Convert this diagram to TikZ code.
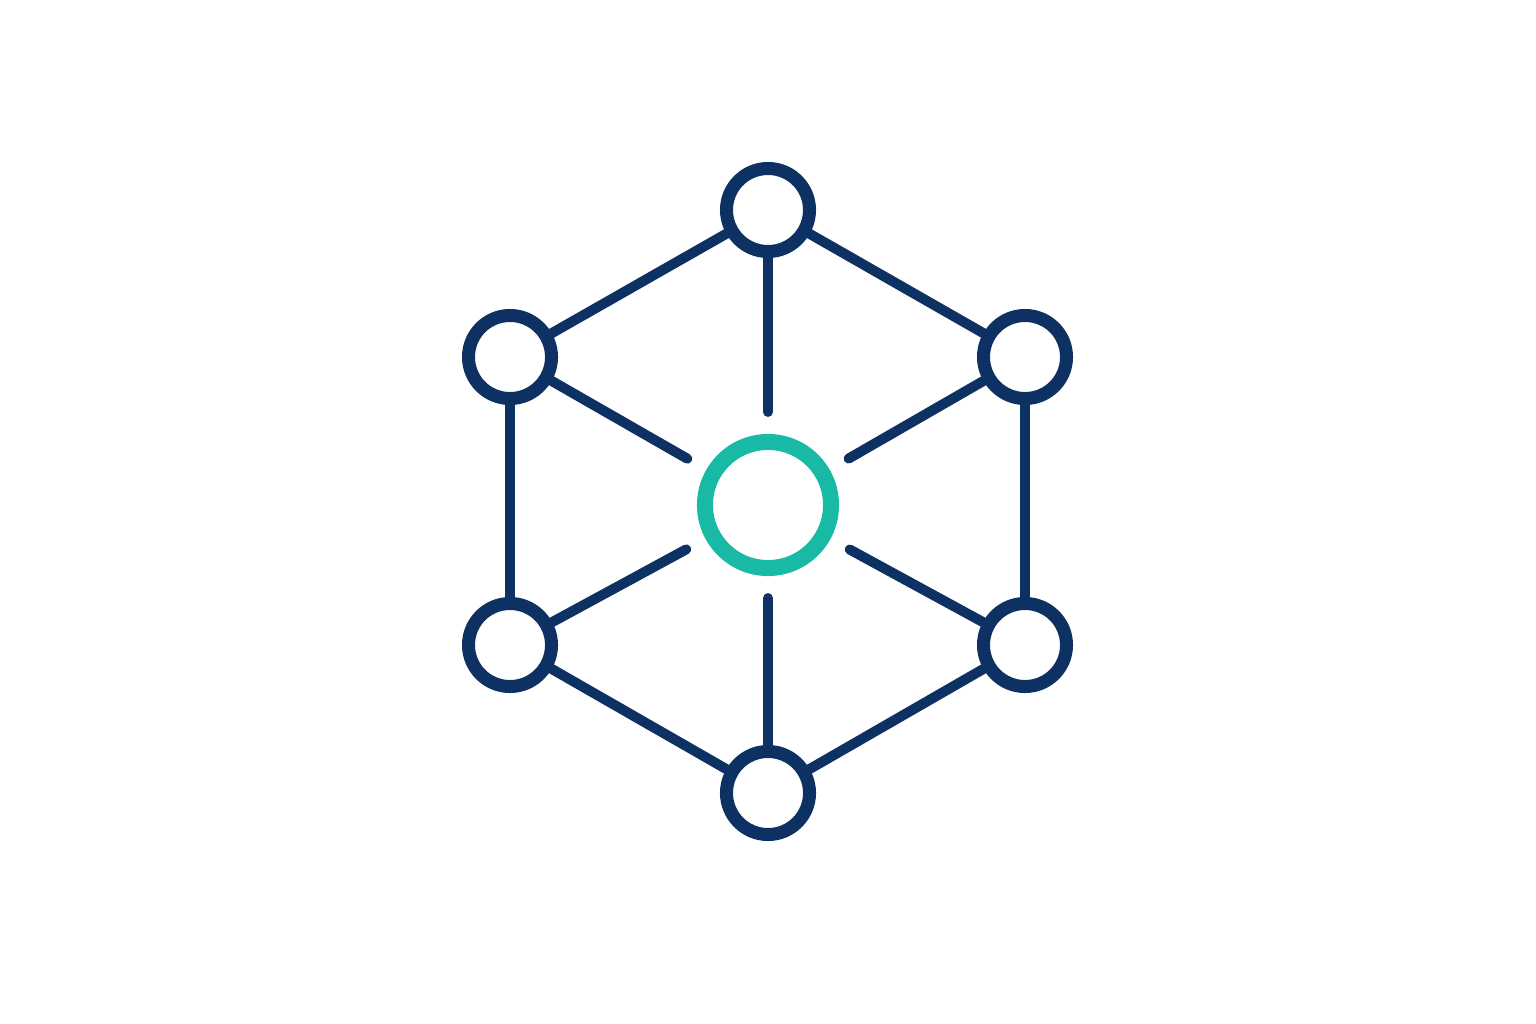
\documentclass[tikz,border=0pt]{standalone}
\usetikzlibrary{calc}
\definecolor{navy}{RGB}{14,49,99}
\definecolor{teal}{RGB}{24,186,166}
\begin{document}
\begin{tikzpicture}[x=0.01cm,y=-0.01cm,
  outer/.style={circle,draw=navy,line width=0.13cm,minimum size=0.83cm,inner sep=0pt,fill=white},
  hub/.style={circle,draw=teal,line width=0.16cm,minimum size=1.26cm,inner sep=0pt,fill=white},
  link/.style={draw=navy,line width=0.10cm,line cap=round}]
\useasboundingbox[fill=white] (0,0) rectangle (1536,1024);
\node[hub] (c) at (768,505) {};
\node[outer] (t) at (768,210) {};
\node[outer] (ul) at (510,357) {};
\node[outer] (ur) at (1025,357) {};
\node[outer] (ll) at (510,645) {};
\node[outer] (lr) at (1025,645) {};
\node[outer] (b) at (768,793) {};
\coordinate (st) at ($(c)!0.93cm!(t)$);
\coordinate (sul) at ($(c)!0.93cm!(ul)$);
\coordinate (sur) at ($(c)!0.93cm!(ur)$);
\coordinate (sll) at ($(c)!0.93cm!(ll)$);
\coordinate (slr) at ($(c)!0.93cm!(lr)$);
\coordinate (sb) at ($(c)!0.93cm!(b)$);
\draw[link] (t) -- (ul);
\draw[link] (t) -- (ur);
\draw[link] (ul) -- (ll);
\draw[link] (ur) -- (lr);
\draw[link] (ll) -- (b);
\draw[link] (lr) -- (b);
\draw[link] (t) -- (st);
\draw[link] (ul) -- (sul);
\draw[link] (ur) -- (sur);
\draw[link] (ll) -- (sll);
\draw[link] (lr) -- (slr);
\draw[link] (b) -- (sb);
\end{tikzpicture}
\end{document}
